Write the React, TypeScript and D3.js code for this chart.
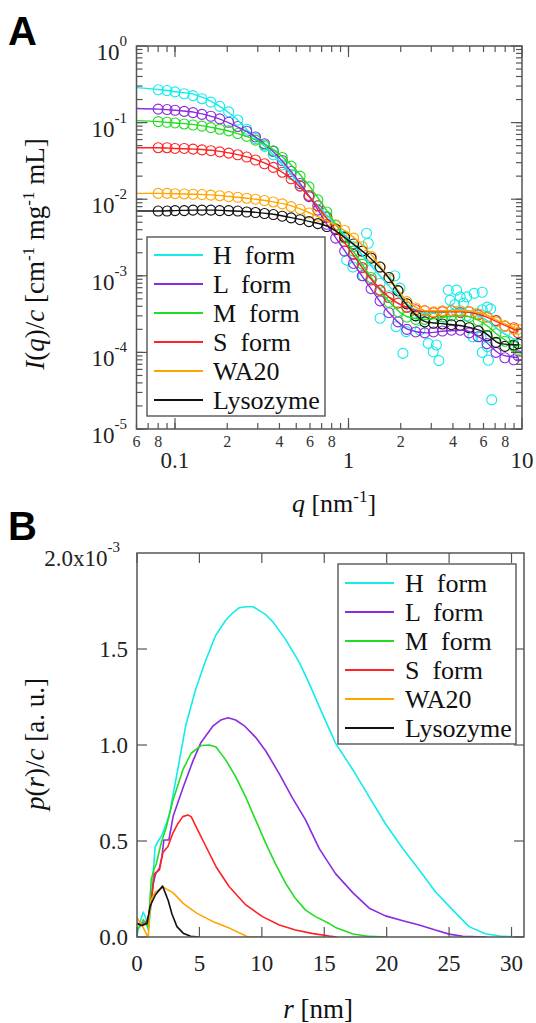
import React from 'react';
import * as d3 from 'd3';

// ---------- Panel A data: I(q)/c ----------
const seriesNames = ['H form', 'L form', 'M form', 'S form', 'WA20', 'Lysozyme'];
const seriesColors = ['#12ECEC', '#8A2BE2', '#22DD22', '#FF2222', '#FFA500', '#111111'];

const markerQ = [0.080, 0.090, 0.100, 0.113, 0.127, 0.143, 0.161, 0.181, 0.204, 0.230, 0.259, 0.291, 0.328, 0.369, 0.415, 0.467, 0.526, 0.592, 0.666, 0.750, 0.844, 0.950, 1.07, 1.20, 1.35, 1.52, 1.71, 1.93, 2.17, 2.44, 2.75, 3.09, 3.48, 3.92, 4.41, 4.96, 5.59, 6.29, 7.08, 7.97, 8.97, 9.50];

const hMarkQ = [0.080, 0.090, 0.100, 0.113, 0.127, 0.143, 0.161, 0.181, 0.204, 0.230, 0.259, 0.291, 0.328, 0.369, 0.415, 0.467, 0.526, 0.592, 0.666, 0.750, 0.844, 0.950, 0.977, 1.06, 1.07, 1.20, 1.22, 1.27, 1.30, 1.35, 1.52, 1.52, 1.71, 1.85, 1.88, 1.98, 2.06, 2.15, 2.44, 2.58, 2.58, 2.88, 3.08, 3.21, 3.32, 3.6, 3.76, 3.85, 4.1, 4.2, 4.2, 4.4, 4.6, 4.8, 4.8, 5.2, 5.3, 5.4, 5.8, 5.9, 5.9, 5.9, 6.3, 6.3, 6.4, 6.6, 6.69, 7.1, 7.97, 8.97];
const hMarkI = [0.268, 0.262, 0.252, 0.238, 0.225, 0.205, 0.185, 0.163, 0.138, 0.108, 0.082, 0.062, 0.049, 0.038, 0.028, 0.021, 0.015, 0.011, 0.0082, 0.0060, 0.0045, 0.0033, 1.6e-3, 1.3e-3, 2.4e-3, 1.6e-3, 1.0e-3, 3.6e-3, 2.66e-3, 1.2e-3, 2.79e-4, 8.0e-4, 5.5e-4, 1.0e-3, 2.17e-4, 6.9e-4, 9.7e-5, 1.87e-4, 3.0e-4, 1.95e-4, 3.2e-4, 1.31e-4, 1.02e-4, 1.25e-4, 7.8e-5, 2.9e-4, 6.5e-4, 4.8e-4, 4.2e-4, 6.5e-4, 3.4e-4, 5.3e-4, 4.4e-4, 5.3e-4, 3.0e-4, 1.6e-4, 5.9e-4, 3.2e-4, 1.6e-4, 6.1e-4, 1.0e-4, 3.6e-4, 1.19e-4, 3.9e-4, 7.9e-5, 3.7e-4, 2.4e-5, 2.6e-4, 2.2e-4, 1.6e-4];

const lMarkI = [0.150, 0.148, 0.145, 0.140, 0.135, 0.128, 0.121, 0.112, 0.101, 0.089, 0.077, 0.065, 0.053, 0.042, 0.032, 0.023, 0.016, 0.0108, 0.0072, 0.0047, 0.0031, 0.0021, 0.00145, 0.00100, 6.8e-4, 4.7e-4, 3.3e-4, 2.5e-4, 2.0e-4, 1.85e-4, 1.8e-4, 1.85e-4, 1.9e-4, 1.95e-4, 1.95e-4, 1.8e-4, 1.6e-4, 1.3e-4, 1.0e-4, 8.5e-5, 8.0e-5, 9.0e-5];
const mMarkI = [0.103, 0.101, 0.099, 0.096, 0.093, 0.090, 0.086, 0.082, 0.078, 0.072, 0.066, 0.059, 0.051, 0.043, 0.035, 0.027, 0.020, 0.0145, 0.0098, 0.0068, 0.0046, 0.0031, 0.0021, 0.00142, 9.5e-4, 6.4e-4, 4.5e-4, 3.4e-4, 2.9e-4, 2.7e-4, 2.7e-4, 2.8e-4, 2.9e-4, 3.0e-4, 3.0e-4, 2.9e-4, 2.6e-4, 2.2e-4, 1.75e-4, 1.4e-4, 1.2e-4, 1.1e-4];
const sMarkI = [0.047, 0.047, 0.046, 0.046, 0.045, 0.044, 0.043, 0.0415, 0.040, 0.038, 0.0355, 0.0325, 0.029, 0.026, 0.0225, 0.0185, 0.0148, 0.0112, 0.0082, 0.0058, 0.0041, 0.0028, 0.0019, 0.00128, 8.8e-4, 6.5e-4, 5.2e-4, 4.4e-4, 3.9e-4, 3.6e-4, 3.5e-4, 3.3e-4, 3.4e-4, 3.5e-4, 3.3e-4, 3.4e-4, 3.1e-4, 2.9e-4, 2.6e-4, 2.2e-4, 2.1e-4, 1.8e-4];
const waMarkI = [0.0119, 0.0119, 0.0118, 0.0117, 0.0116, 0.0115, 0.0113, 0.0111, 0.0108, 0.0106, 0.0103, 0.0100, 0.0096, 0.0092, 0.0087, 0.0080, 0.0074, 0.0066, 0.0060, 0.0052, 0.0046, 0.0039, 0.0031, 0.0024, 0.0018, 0.0013, 9.0e-4, 6.3e-4, 4.6e-4, 3.8e-4, 3.5e-4, 3.4e-4, 3.5e-4, 3.5e-4, 3.5e-4, 3.4e-4, 3.2e-4, 2.9e-4, 2.5e-4, 2.2e-4, 2.0e-4, 2.0e-4];
const lysMarkI = [0.0070, 0.0070, 0.0071, 0.0071, 0.0072, 0.0072, 0.0072, 0.0071, 0.0071, 0.0070, 0.0068, 0.0067, 0.0065, 0.0063, 0.0060, 0.0057, 0.0054, 0.0051, 0.0048, 0.0044, 0.0040, 0.0032, 0.0026, 0.0021, 0.0017, 0.0013, 9.5e-4, 6.4e-4, 4.3e-4, 3.0e-4, 2.5e-4, 2.4e-4, 2.35e-4, 2.3e-4, 2.25e-4, 2.1e-4, 1.9e-4, 1.65e-4, 1.35e-4, 1.2e-4, 1.25e-4, 1.3e-4];

const fitQ = [0.06, 0.08, 0.1, 0.13, 0.17, 0.22, 0.28, 0.36, 0.46, 0.6, 0.78, 1.0, 1.3, 1.7, 2.2, 2.8, 3.6, 4.6, 6.0, 7.5, 9.5];
const hFit = [0.286, 0.270, 0.253, 0.232, 0.178, 0.118, 0.068, 0.040, 0.022, 0.0107, 0.0056, 0.0030, 0.0015, 7.5e-4, 4.2e-4, 3.2e-4, 3.5e-4, 3.6e-4, 2.8e-4, 1.9e-4, 1.4e-4];
const lFit = [0.153, 0.150, 0.145, 0.136, 0.117, 0.092, 0.069, 0.044, 0.024, 0.0105, 0.0041, 0.0018, 7.6e-4, 3.35e-4, 2.0e-4, 1.8e-4, 1.9e-4, 1.95e-4, 1.45e-4, 9.5e-5, 8.5e-5];
const mFit = [0.106, 0.103, 0.099, 0.094, 0.085, 0.074, 0.062, 0.046, 0.029, 0.0145, 0.0062, 0.0026, 1.08e-3, 4.7e-4, 2.9e-4, 2.7e-4, 2.9e-4, 3.0e-4, 2.4e-4, 1.6e-4, 1.15e-4];
const sFit = [0.047, 0.047, 0.046, 0.045, 0.043, 0.039, 0.034, 0.027, 0.019, 0.0105, 0.0050, 0.0023, 1.0e-3, 5.3e-4, 3.8e-4, 3.4e-4, 3.4e-4, 3.4e-4, 3.0e-4, 2.4e-4, 1.9e-4];
const waFit = [0.0119, 0.0119, 0.0118, 0.0116, 0.0113, 0.0107, 0.0101, 0.0093, 0.0083, 0.0066, 0.0050, 0.0036, 0.0021, 9.5e-4, 4.6e-4, 3.5e-4, 3.5e-4, 3.5e-4, 3.2e-4, 2.5e-4, 2.0e-4];
const lysFit = [0.0070, 0.0070, 0.0071, 0.0072, 0.0072, 0.0070, 0.0068, 0.0064, 0.0058, 0.0051, 0.0043, 0.0029, 0.0018, 9.5e-4, 4.0e-4, 2.5e-4, 2.35e-4, 2.2e-4, 1.85e-4, 1.3e-4, 1.25e-4];

// ---------- Panel B data: p(r)/c  (units of 1e-3) ----------
const hR = [0, 0.3, 0.5, 0.7, 0.9, 1.1, 1.3, 1.45, 1.7, 2.0, 2.4, 2.6, 3.0, 3.4, 3.9, 4.7, 5.5, 6.3, 7.1, 7.7, 8.2, 8.7, 9.3, 9.8, 10.3, 10.9, 11.9, 13.0, 13.8, 14.6, 15.9, 17.3, 18.6, 19.9, 21.3, 22.6, 23.9, 25.3, 26.6, 27.9, 29.3, 31.0];
const hP = [0.01, 0.09, 0.13, 0.10, 0.036, 0.15, 0.33, 0.47, 0.50, 0.53, 0.60, 0.64, 0.78, 0.92, 1.10, 1.29, 1.44, 1.57, 1.65, 1.69, 1.715, 1.72, 1.72, 1.70, 1.68, 1.64, 1.55, 1.43, 1.32, 1.20, 1.01, 0.87, 0.73, 0.59, 0.46, 0.35, 0.236, 0.14, 0.054, 0.017, 0.003, 0.0];
const lR = [0, 0.4, 0.8, 1.05, 1.3, 1.5, 1.8, 2.0, 2.15, 2.55, 2.9, 3.7, 4.5, 5.1, 6.1, 6.7, 7.3, 7.9, 8.6, 9.5, 10.3, 11.4, 12.4, 13.5, 14.6, 15.9, 17.3, 18.6, 19.9, 21.3, 22.6, 23.9, 25.0, 26.1, 28.0];
const lP = [0.07, 0.07, 0.08, 0.14, 0.28, 0.33, 0.36, 0.42, 0.505, 0.505, 0.63, 0.78, 0.92, 1.01, 1.10, 1.13, 1.142, 1.13, 1.10, 1.04, 0.97, 0.85, 0.73, 0.61, 0.46, 0.33, 0.23, 0.15, 0.11, 0.085, 0.063, 0.036, 0.015, 0.004, 0.0];
const mR = [0, 0.3, 0.5, 0.7, 0.9, 1.14, 1.4, 1.54, 1.94, 2.34, 2.87, 3.67, 4.34, 5.13, 5.8, 6.33, 7.13, 7.9, 8.7, 9.5, 10.3, 11.1, 11.9, 12.7, 13.5, 14.3, 15.4, 15.9, 17.3, 18.6, 20.0];
const mP = [0.035, 0.06, 0.09, 0.07, 0.05, 0.30, 0.36, 0.38, 0.49, 0.57, 0.71, 0.87, 0.957, 0.997, 1.0, 0.99, 0.92, 0.835, 0.73, 0.61, 0.49, 0.38, 0.28, 0.20, 0.14, 0.106, 0.07, 0.05, 0.016, 0.003, 0.0];
const sR = [0, 0.4, 0.7, 0.9, 1.17, 1.4, 1.8, 2.07, 2.47, 2.87, 3.27, 3.67, 4.07, 4.34, 4.73, 5.53, 6.33, 7.39, 8.72, 10.05, 11.4, 12.7, 14.0, 15.4, 16.0];
const sP = [0.07, 0.06, 0.07, 0.10, 0.20, 0.33, 0.35, 0.44, 0.47, 0.54, 0.59, 0.627, 0.635, 0.627, 0.575, 0.47, 0.366, 0.262, 0.167, 0.106, 0.0625, 0.036, 0.019, 0.005, 0.0];
const waR = [0, 0.4, 0.8, 0.9, 1.1, 1.48, 2.1, 2.9, 3.7, 4.8, 6.1, 7.44, 8.9, 10.0];
const waP = [0.10, 0.06, 0.01, 0.0, 0.19, 0.235, 0.26, 0.23, 0.175, 0.123, 0.08, 0.045, 0.0, 0.0];
const lyR = [0, 0.4, 0.8, 1.05, 1.48, 2.05, 2.5, 2.8, 3.2, 3.7, 4.3, 5.0];
const lyP = [0.07, 0.06, 0.07, 0.16, 0.22, 0.265, 0.19, 0.12, 0.054, 0.02, 0.004, 0.0];

const rTicks = [0, 5, 10, 15, 20, 25, 30];
const pTicks = [0.0, 0.5, 1.0, 1.5];

const SERIF = "'Liberation Serif', Tinos, 'Times New Roman', 'DejaVu Serif', serif";
const FRAME = '#555';

function zip(xs: number[], ys: number[]): [number, number][] {
  const n = Math.min(xs.length, ys.length);
  const out: [number, number][] = [];
  for (let i = 0; i < n; i++) out.push([xs[i], ys[i]]);
  return out;
}

function Legend({ x0, y0, x1, y1, rowY, lineX0, lineX1, textX }: any) {
  return (
    <g>
      <rect x={x0} y={y0} width={x1 - x0} height={y1 - y0} fill="white" stroke={FRAME} strokeWidth={1.4} />
      {seriesNames.map((n, i) => (
        <g key={n}>
          <line x1={lineX0} x2={lineX1} y1={rowY + i * 29} y2={rowY + i * 29} stroke={seriesColors[i]} strokeWidth={2} />
          <text x={textX} y={rowY + i * 29 + 9} fontSize={26} style={{ fontFamily: SERIF, whiteSpace: 'pre' }} fill="#111">
            {n.replace(' ', '  ')}
          </text>
        </g>
      ))}
    </g>
  );
}

export default function App() {
  const xA = d3.scaleLog().domain([0.06, 10]).range([136.5, 522]);
  const yA = d3.scaleLog().domain([1e-5, 1]).range([429, 46]);
  const xB = d3.scaleLinear().domain([0, 31]).range([137, 524]);
  const yB = d3.scaleLinear().domain([0, 2]).range([937, 553]);

  const A = { l: 136.5, r: 522, t: 46, b: 429 };
  const B = { l: 137, r: 524, t: 553, b: 937 };

  const markerSets = [
    zip(hMarkQ, hMarkI),
    zip(markerQ, lMarkI),
    zip(markerQ, mMarkI),
    zip(markerQ, sMarkI),
    zip(markerQ, waMarkI),
    zip(markerQ, lysMarkI),
  ];
  const fitSets = [hFit, lFit, mFit, sFit, waFit, lysFit].map((f) => zip(fitQ, f));
  const prSets = [zip(hR, hP), zip(lR, lP), zip(mR, mP), zip(sR, sP), zip(waR, waP), zip(lyR, lyP)];

  const fitLine = d3.line<[number, number]>().x((d) => xA(d[0])).y((d) => yA(d[1])).curve(d3.curveMonotoneX);
  const prLine = d3.line<[number, number]>().x((d) => xB(d[0])).y((d) => yB(d[1]));

  const xMinor: number[] = [];
  for (const e of [-2, -1, 0]) for (let k = 1; k <= 9; k++) {
    const v = k * Math.pow(10, e);
    if (v >= 0.06 - 1e-9 && v <= 10 + 1e-9) xMinor.push(v);
  }
  const xMajor = [0.1, 1, 10];
  const yMinor: number[] = [];
  for (const e of [-5, -4, -3, -2, -1]) for (let k = 1; k <= 9; k++) yMinor.push(k * Math.pow(10, e));
  const yMajorExp = [0, -1, -2, -3, -4, -5];
  const xMinorLabels: [number, string][] = [[0.06, '6'], [0.08, '8'], [0.2, '2'], [0.4, '4'], [0.6, '6'], [0.8, '8'], [2, '2'], [4, '4'], [6, '6'], [8, '8']];
  const xMajorLabels: [number, string][] = [[0.1, '0.1'], [1, '1'], [10, '10']];

  const ff = { fontFamily: SERIF };

  return (
    <svg width={536} height={1023} viewBox="0 0 536 1023" style={{ position: 'absolute', left: 0, top: 0, background: 'white' }}>
      <defs>
        <clipPath id="clipA"><rect x={A.l} y={A.t} width={A.r - A.l} height={A.b - A.t} /></clipPath>
        <clipPath id="clipB"><rect x={B.l} y={B.t} width={B.r - B.l} height={B.b - B.t} /></clipPath>
      </defs>
      <rect x={0} y={0} width={536} height={1023} fill="white" />

      {/* ===== Panel A ===== */}
      <text x={8} y={45} style={{ fontFamily: "'Liberation Sans', Arial, sans-serif" }} fontWeight="bold" fontSize={40} fill="#000">A</text>
      <g clipPath="url(#clipA)">
        {markerSets.map((pts, si) => (
          <g key={'m' + si} stroke={seriesColors[si]} fill="none" strokeWidth={1.1}>
            {pts.map((p, i) => (
              <circle key={i} cx={xA(p[0])} cy={yA(p[1])} r={5} />
            ))}
          </g>
        ))}
        {fitSets.map((pts, si) => (
          <path key={'f' + si} d={fitLine(pts) || ''} fill="none" stroke={seriesColors[si]} strokeWidth={1.4} />
        ))}
      </g>
      <g stroke={FRAME} strokeWidth={1.2}>
        {xMinor.map((v) => (
          <g key={'xm' + v}>
            <line x1={xA(v)} x2={xA(v)} y1={A.b} y2={A.b - 6} />
            <line x1={xA(v)} x2={xA(v)} y1={A.t} y2={A.t + 6} />
          </g>
        ))}
        {xMajor.map((v) => (
          <g key={'xM' + v}>
            <line x1={xA(v)} x2={xA(v)} y1={A.b} y2={A.b - 11} />
            <line x1={xA(v)} x2={xA(v)} y1={A.t} y2={A.t + 11} />
          </g>
        ))}
        {yMinor.map((v) => (
          <g key={'ym' + v}>
            <line x1={A.l} x2={A.l + 6} y1={yA(v)} y2={yA(v)} />
            <line x1={A.r} x2={A.r - 6} y1={yA(v)} y2={yA(v)} />
          </g>
        ))}
        {yMajorExp.map((e) => (
          <g key={'yM' + e}>
            <line x1={A.l} x2={A.l + 11} y1={yA(Math.pow(10, e))} y2={yA(Math.pow(10, e))} />
            <line x1={A.r} x2={A.r - 11} y1={yA(Math.pow(10, e))} y2={yA(Math.pow(10, e))} />
          </g>
        ))}
      </g>
      <rect x={A.l} y={A.t} width={A.r - A.l} height={A.b - A.t} fill="none" stroke={FRAME} strokeWidth={1.5} />

      <Legend x0={147} y0={237} x1={325} y1={416} rowY={255} lineX0={154} lineX1={203} textX={213} />

      <g style={ff} fill="#222">
        {yMajorExp.map((e) => (
          <text key={'yl' + e} x={127} y={yA(Math.pow(10, e)) + 14} fontSize={23} textAnchor="end" style={ff}>
            10<tspan dy={-14} fontSize={15}>{e === 0 ? '0' : String(e)}</tspan>
          </text>
        ))}
        {xMinorLabels.map(([v, s]) => (
          <text key={'xl' + v} x={xA(v)} y={447} fontSize={16} textAnchor="middle" fill="#333" style={ff}>{s}</text>
        ))}
        {xMajorLabels.map(([v, s]) => (
          <text key={'xL' + v} x={xA(v)} y={468} fontSize={23} textAnchor="middle" style={ff}>{s}</text>
        ))}
      </g>
      <text x={334} y={512} style={ff} fontSize={26} textAnchor="middle" fill="#111">
        <tspan fontStyle="italic">q</tspan>{' [nm'}<tspan dy={-10} fontSize={17}>-1</tspan><tspan dy={10}>]</tspan>
      </text>
      <text transform="translate(44,254) rotate(-90)" style={ff} fontSize={27} textAnchor="middle" fill="#111">
        <tspan fontStyle="italic">I</tspan>(<tspan fontStyle="italic">q</tspan>)/<tspan fontStyle="italic">c</tspan>
        {' [cm'}<tspan dy={-10} fontSize={17}>-1</tspan><tspan dy={10}>{' mg'}</tspan><tspan dy={-10} fontSize={17}>-1</tspan><tspan dy={10}>{' mL]'}</tspan>
      </text>

      {/* ===== Panel B ===== */}
      <text x={8} y={540} style={{ fontFamily: "'Liberation Sans', Arial, sans-serif" }} fontWeight="bold" fontSize={40} fill="#000">B</text>
      <g clipPath="url(#clipB)">
        {prSets.map((pts, si) => (
          <path key={'p' + si} d={prLine(pts) || ''} fill="none" stroke={seriesColors[si]} strokeWidth={1.6} strokeLinejoin="round" />
        ))}
      </g>
      <g stroke={FRAME} strokeWidth={1.2}>
        {rTicks.map((v) => (
          <g key={'rt' + v}>
            <line x1={xB(v)} x2={xB(v)} y1={B.b} y2={B.b - 10} />
            <line x1={xB(v)} x2={xB(v)} y1={B.t} y2={B.t + 10} />
          </g>
        ))}
        {pTicks.map((v) => (
          <g key={'pt' + v}>
            <line x1={B.l} x2={B.l + 10} y1={yB(v)} y2={yB(v)} />
            <line x1={B.r} x2={B.r - 10} y1={yB(v)} y2={yB(v)} />
          </g>
        ))}
      </g>
      <rect x={B.l} y={B.t} width={B.r - B.l} height={B.b - B.t} fill="none" stroke={FRAME} strokeWidth={1.5} />

      <Legend x0={338} y0={564} x1={516} y1={744} rowY={583} lineX0={345} lineX1={394} textX={405} />

      <g style={ff} fill="#222" fontSize={23}>
        {pTicks.map((v) => (
          <text key={'pl' + v} x={128} y={yB(v) + 8} textAnchor="end" style={ff}>{v.toFixed(1)}</text>
        ))}
        <text x={120} y={566} textAnchor="end" style={ff}>2.0x10<tspan dy={-14} fontSize={15}>-3</tspan></text>
        {rTicks.map((v) => (
          <text key={'rl' + v} x={xB(v)} y={971} textAnchor="middle" style={ff}>{String(v)}</text>
        ))}
      </g>
      <text x={318} y={1018} style={ff} fontSize={27} textAnchor="middle" fill="#111">
        <tspan fontStyle="italic">r</tspan>{' [nm]'}
      </text>
      <text transform="translate(44,744) rotate(-90)" style={ff} fontSize={27} textAnchor="middle" fill="#111">
        <tspan fontStyle="italic">p</tspan>(<tspan fontStyle="italic">r</tspan>)/<tspan fontStyle="italic">c</tspan>{' [a. u.]'}
      </text>
    </svg>
  );
}
